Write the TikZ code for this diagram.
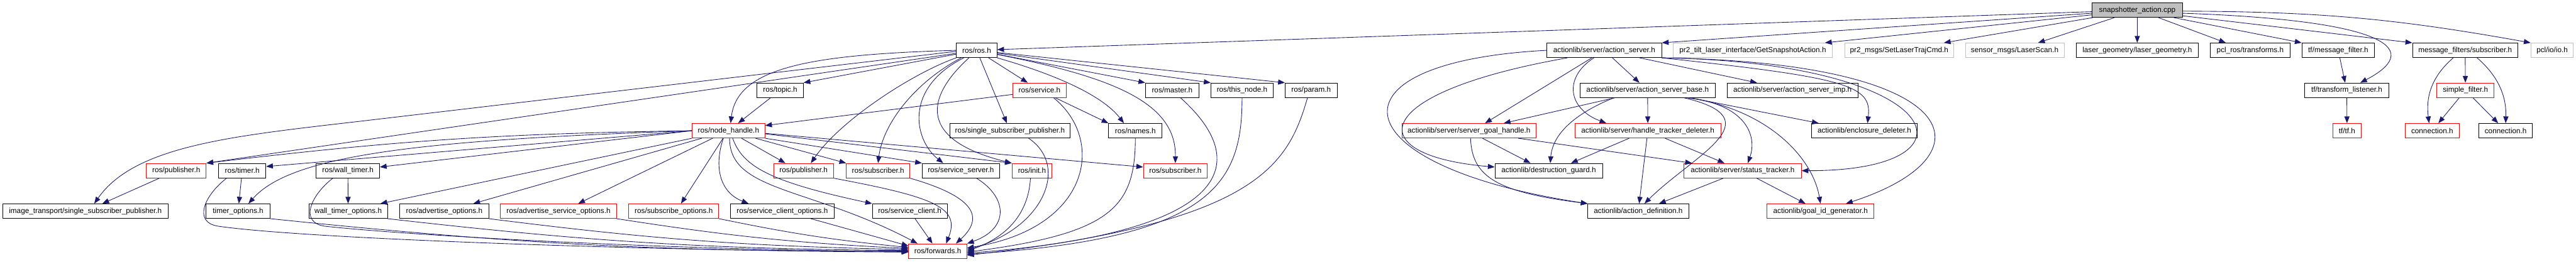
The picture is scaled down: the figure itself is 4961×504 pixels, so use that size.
\documentclass[tikz,border=0pt]{standalone}
\usepackage{fontspec}
\setmainfont{Liberation Sans}
\usepackage{tikz}
\usetikzlibrary{positioning, arrows.meta, calc}
\usepackage{xcolor}
\definecolor{edgeblue}{HTML}{191970}
\definecolor{boxgray}{HTML}{BFBFBF}
\definecolor{boxred}{HTML}{FF0000}
\newlength{\px}
\setlength{\px}{0.02cm}

\begin{document}
\begin{tikzpicture}[x=0.02cm, y=-0.02cm,
    file/.style={draw=black, fill=white, line width=0.6pt, minimum height=28\px, inner sep=0pt, font=\fontsize{8.1}{9.7}\selectfont},
    redfile/.style={file, draw=boxred},
    extfile/.style={file, draw=boxgray},
    rootfile/.style={file, fill=boxgray},
    dep/.style={draw=edgeblue, line width=0.6pt, -{Triangle[length=7.4pt, width=5.6pt]}}]
    \fill[white] (0,0) rectangle (4961,504);
    \useasboundingbox (0,0) rectangle (4961,504);

    \node[rootfile, minimum width=174\px] (snap) at (4116,19.5) {snapshotter\_action.cpp};

    \node[file, minimum width=78\px] (ros) at (1881,97) {ros/ros.h};
    \node[file, minimum width=221\px] (asrv) at (3089.5,97) {actionlib/server/action\_server.h};
    \node[extfile, minimum width=307\px] (getsnap) at (3375.5,97) {pr2\_tilt\_laser\_interface/GetSnapshotAction.h};
    \node[extfile, minimum width=209\px] (setlaser) at (3657.5,97) {pr2\_msgs/SetLaserTrajCmd.h};
    \node[extfile, minimum width=190\px] (laserscan) at (3880,97) {sensor\_msgs/LaserScan.h};
    \node[file, minimum width=236\px] (lgeom) at (4116,97) {laser\_geometry/laser\_geometry.h};
    \node[file, minimum width=153\px] (pclros) at (4333.5,97) {pcl\_ros/transforms.h};
    \node[file, minimum width=140\px] (tfmf) at (4503,97) {tf/message\_filter.h};
    \node[file, minimum width=203\px] (mfsub) at (4747.5,97) {message\_filters/subscriber.h};
    \node[extfile, minimum width=82\px] (pclio) at (4915,97) {pcl/io/io.h};

    \node[file, minimum width=89\px] (topic) at (1502.5,174) {ros/topic.h};
    \node[redfile, minimum width=102\px] (service) at (2002,174) {ros/service.h};
    \node[file, minimum width=103\px] (master) at (2257.5,174) {ros/master.h};
    \node[file, minimum width=120\px] (thisnode) at (2392,174) {ros/this\_node.h};
    \node[file, minimum width=100\px] (param) at (2525,174) {ros/param.h};
    \node[file, minimum width=260\px] (asbase) at (3173,174) {actionlib/server/action\_server\_base.h};
    \node[file, minimum width=252\px] (asimp) at (3452,174) {actionlib/server/action\_server\_imp.h};
    \node[file, minimum width=163\px] (tflist) at (4519.5,174) {tf/transform\_listener.h};
    \node[redfile, minimum width=110\px] (sfilter) at (4748,174) {simple\_filter.h};

    \node[redfile, minimum width=140\px] (nh) at (1403,252) {ros/node\_handle.h};
    \node[file, minimum width=232\px] (ssp) at (1945,252) {ros/single\_subscriber\_publisher.h};
    \node[file, minimum width=103\px] (names) at (2186.5,252) {ros/names.h};
    \node[redfile, minimum width=258\px] (sgh) at (2829,252) {actionlib/server/server\_goal\_handle.h};
    \node[redfile, minimum width=281\px] (htd) at (3173.5,252) {actionlib/server/handle\_tracker\_deleter.h};
    \node[file, minimum width=203\px] (encl) at (3590.5,252) {actionlib/enclosure\_deleter.h};
    \node[redfile, minimum width=54\px] (tftf) at (4520,252) {tf/tf.h};
    \node[redfile, minimum width=104\px] (connA) at (4684,252) {connection.h};
    \node[file, minimum width=103\px] (connB) at (4825.5,252) {connection.h};

    \node[redfile, minimum width=115\px] (pubL) at (339.5,329) {ros/publisher.h};
    \node[file, minimum width=91\px] (timer) at (466.5,329) {ros/timer.h};
    \node[file, minimum width=122\px] (wtimer) at (670,329) {ros/wall\_timer.h};
    \node[redfile, minimum width=115\px] (pub) at (1547.5,329) {ros/publisher.h};
    \node[redfile, minimum width=122\px] (sub) at (1691,329) {ros/subscriber.h};
    \node[file, minimum width=149\px] (ssrv) at (1850.5,329) {ros/service\_server.h};
    \node[redfile, minimum width=77\px] (init) at (1987.5,329) {ros/init.h};
    \node[redfile, minimum width=123\px] (sub2) at (2263.5,329) {ros/subscriber.h};
    \node[file, minimum width=207\px] (dguard) at (2982.5,329) {actionlib/destruction\_guard.h};
    \node[redfile, minimum width=226\px] (stracker) at (3356,329) {actionlib/server/status\_tracker.h};

    \node[file, minimum width=319\px] (itssp) at (164.5,407) {image\_transport/single\_subscriber\_publisher.h};
    \node[file, minimum width=123\px] (topts) at (458.5,407) {timer\_options.h};
    \node[file, minimum width=151\px] (wtopts) at (670.5,407) {wall\_timer\_options.h};
    \node[file, minimum width=171\px] (adopts) at (855.5,407) {ros/advertise\_options.h};
    \node[redfile, minimum width=223\px] (adsopts) at (1075.5,407) {ros/advertise\_service\_options.h};
    \node[redfile, minimum width=173\px] (subopts) at (1297.5,407) {ros/subscribe\_options.h};
    \node[file, minimum width=199\px] (scopts) at (1506.5,407) {ros/service\_client\_options.h};
    \node[file, minimum width=144\px] (sclient) at (1752,407) {ros/service\_client.h};
    \node[file, minimum width=194\px] (adef) at (3155,407) {actionlib/action\_definition.h};
    \node[redfile, minimum width=206\px] (goalid) at (3506,407) {actionlib/goal\_id\_generator.h};

    \node[redfile, minimum width=112\px] (fwd) at (1806,484) {ros/forwards.h};

    \draw[dep] (snap) -- (ros);
    \draw[dep] (snap) -- (asrv.north east);
    \draw[dep] (snap) -- ($(getsnap.north east)+(-15,0)$);
    \draw[dep] (snap) -- ($(setlaser.north east)+(-19,0)$);
    \draw[dep] ($(snap.south)+(-44,0)$) -- ($(laserscan.north)+(45,0)$);
    \draw[dep] (snap) -- (lgeom);
    \draw[dep] ($(snap.south)+(41,0)$) -- ($(pclros.north)+(-47,0)$);
    \draw[dep] ($(snap.south east)+(-17,0)$) -- (tfmf.north west);
    \draw[dep] ($(snap.east)+(0,6)$) .. controls (4620,40) and (4660,100) .. ($(tflist.north)+(26,0)$);
    \draw[dep] ($(snap.east)+(0,11)$) -- (mfsub.north west);
    \draw[dep] ($(snap.east)+(0,2)$) to[bend left=5] (pclio.north west);

    \draw[dep] (ros) -- (topic.north east);
    \draw[dep] (ros.west) .. controls (1560,105) and (1420,130) .. ($(nh.north)+(4,0)$);
    \draw[dep] (ros) -- (pubL.north east);
    \draw[dep] ($(ros.west)+(0,2)$) -- (700,233) .. controls (450,262) and (260,280) .. ($(itssp.north)+(17,0)$);
    \draw[dep] (ros.south west) .. controls (1760,140) and (1620,230) .. ($(pub.north)+(14,0)$);
    \draw[dep] ($(ros.south)+(-30,0)$) .. controls (1760,160) and (1700,240) .. (sub.north);
    \draw[dep] ($(ros.south)+(-25,0)$) .. controls (1740,170) and (1760,270) .. ($(ssrv.north)+(-34,0)$);
    \draw[dep] ($(ros.south)+(-15,0)$) .. controls (1780,190) and (1770,270) .. (init.north west);
    \draw[dep] (ros) -- (ssp);
    \draw[dep] (ros) -- (service);
    \draw[dep] (ros) -- (master.north west);
    \draw[dep] (ros) -- (thisnode.north west);
    \draw[dep] (ros) -- (param.north west);
    \draw[dep] (ros.south east) .. controls (2020,140) and (2120,180) .. ($(names.north)+(-22,0)$);
    \draw[dep] ($(ros.east)+(0,8)$) .. controls (2150,150) and (2265,200) .. (sub2.north);

    \draw[dep] (nh.west) to[bend right=3] (pubL.north east);
    \draw[dep] (nh.west) -- ($(timer.east)+(0,-8)$);
    \draw[dep] (nh.west) .. controls (800,270) and (560,300) .. ($(topts.north)+(20,0)$);
    \draw[dep] (nh.west) -- ($(wtimer.east)+(0,-7)$);
    \draw[dep] (nh.south west) -- ($(wtopts.north east)+(-14,0)$);
    \draw[dep] ($(nh.south west)+(19,0)$) -- ($(adopts.north)+(56,0)$);
    \draw[dep] ($(nh.south west)+(40,0)$) -- ($(adsopts.north)+(38,0)$);
    \draw[dep] ($(nh.south west)+(60,0)$) -- ($(subopts.north)+(14,0)$);
    \draw[dep] ($(nh.south)+(-10,0)$) .. controls (1375,320) and (1385,370) .. ($(scopts.north)+(-65,0)$);
    \draw[dep] ($(nh.south)+(2,0)$) .. controls (1405,370) and (1560,360) .. ($(fwd.north)+(-39,0)$);
    \draw[dep] ($(nh.south)+(8,0)$) .. controls (1430,320) and (1480,350) .. (sclient.north west);
    \draw[dep] ($(nh.south)+(25,0)$) -- ($(pub.north)+(-35,0)$);
    \draw[dep] ($(nh.south)+(52,0)$) -- (sub.north west);
    \draw[dep] (nh.south east) -- (ssrv.north west);
    \draw[dep] ($(nh.east)+(0,6)$) -- (init.north west);
    \draw[dep] ($(nh.east)+(0,5)$) -- ($(sub2.west)+(0,-7)$);

    \draw[dep] (topic) -- (nh);
    \draw[dep] ($(service.west)+(0,8)$) -- ($(nh.east)+(0,-10)$);
    \draw[dep] (service) -- (names.north west);
    \draw[dep] ($(service.south)+(27,0)$) .. controls (2130,270) and (2100,440) .. ($(fwd.east)+(0,-6)$);
    \draw[dep] ($(ssp.south)+(36,0)$) .. controls (2060,320) and (2010,440) .. ($(fwd.east)+(0,-3)$);
    \draw[dep] ($(init.south)+(-3,0)$) .. controls (1980,420) and (1930,460) .. (fwd.east);
    \draw[dep] (names.south) .. controls (2186,400) and (2140,450) .. ($(fwd.east)+(0,2)$);
    \draw[dep] ($(master.south)+(16,0)$) .. controls (2420,320) and (2360,450) .. ($(fwd.east)+(0,4)$);
    \draw[dep] (thisnode.south) .. controls (2392,350) and (2340,460) .. ($(fwd.east)+(0,6)$);
    \draw[dep] ($(param.south)+(-7,0)$) .. controls (2480,320) and (2420,430) .. ($(fwd.east)+(0,8)$);

    \draw[dep] (pub.south east) .. controls (1800,380) and (1850,400) .. ($(fwd.north)+(16,0)$);
    \draw[dep] (sub.south east) .. controls (1880,380) and (1895,420) .. ($(fwd.north)+(35,0)$);
    \draw[dep] ($(ssrv.south)+(30,0)$) .. controls (1940,380) and (1945,440) .. (fwd.north east);
    \draw[dep] (sclient) -- (fwd);
    \draw[dep] ($(scopts.south)+(55,0)$) -- ($(fwd.west)+(0,-10)$);
    \draw[dep] (subopts.south east) to[bend right=3] ($(fwd.west)+(0,-7)$);
    \draw[dep] (adsopts.south east) to[bend right=3] ($(fwd.west)+(0,-5)$);
    \draw[dep] (adopts.south east) to[bend right=3] ($(fwd.west)+(0,-3)$);
    \draw[dep] (wtopts.south east) to[bend right=3] ($(fwd.west)+(0,-1)$);
    \draw[dep] (topts.south east) to[bend right=3] (fwd.west);
    \draw[dep] ($(timer.south)+(-30,0)$) .. controls (395,375) and (370,428) .. (420,436) .. controls (600,462) and (1300,484) .. ($(fwd.west)+(0,2)$);
    \draw[dep] ($(wtimer.south)+(-29,0)$) .. controls (600,375) and (575,428) .. (625,436) .. controls (800,455) and (1300,482) .. ($(fwd.west)+(0,1)$);
    \draw[dep] (timer) -- (topts);
    \draw[dep] (wtimer) -- (wtopts);
    \draw[dep] (pubL) -- (itssp);

    \draw[dep] (asrv.west) .. controls (2540,120) and (2580,320) .. (adef.north west);
    \draw[dep] ($(asrv.south west)+(40,0)$) .. controls (2630,180) and (2620,300) .. ($(dguard.west)+(0,-7)$);
    \draw[dep] ($(asrv.south)+(-24,0)$) -- ($(sgh.north)+(31,0)$);
    \draw[dep] ($(asrv.south)+(-20,0)$) .. controls (3010,150) and (3020,210) .. ($(htd.north)+(-80,0)$);
    \draw[dep] (asrv) -- (asbase);
    \draw[dep] (asrv) -- (asimp);
    \draw[dep] (asrv.south east) .. controls (3560,150) and (3605,165) .. ($(encl.north)+(6,0)$);
    \draw[dep] (asrv.south east) .. controls (3750,120) and (3830,330) .. (stracker.east);
    \draw[dep] (asrv.south east) .. controls (3790,120) and (3840,300) .. ($(goalid.north)+(49,0)$);

    \draw[dep] ($(asbase.south)+(-63,0)$) -- ($(sgh.north)+(67,0)$);
    \draw[dep] ($(asbase.south)+(-65,0)$) .. controls (3030,220) and (2990,260) .. ($(dguard.north)+(3,0)$);
    \draw[dep] (asbase) -- (htd);
    \draw[dep] ($(asbase.south)+(70,0)$) .. controls (3420,230) and (3260,300) .. ($(adef.north)+(12,0)$);
    \draw[dep] ($(asbase.south)+(75,0)$) .. controls (3360,200) and (3385,260) .. ($(stracker.north)+(10,0)$);
    \draw[dep] ($(asbase.south)+(78,0)$) .. controls (3400,210) and (3490,300) .. (goalid.north);
    \draw[dep] ($(asbase.south east)+(-48,0)$) -- ($(encl.north west)+(14,0)$);

    \draw[dep] ($(htd.south)+(-36,0)$) -- ($(dguard.north)+(43,0)$);
    \draw[dep] (htd) -- (adef);
    \draw[dep] ($(htd.south)+(33,0)$) -- ($(stracker.north)+(-35,0)$);

    \draw[dep] ($(sgh.south)+(26,0)$) -- ($(dguard.north)+(-35,0)$);
    \draw[dep] ($(sgh.south)+(3,0)$) .. controls (2835,340) and (2880,370) .. (adef.north west);
    \draw[dep] ($(sgh.south)+(95,0)$) -- ($(stracker.north west)+(16,0)$);

    \draw[dep] ($(stracker.south)+(-37,0)$) -- ($(adef.north)+(40,0)$);
    \draw[dep] ($(stracker.south)+(27,0)$) -- ($(goalid.north)+(-29,0)$);

    \draw[dep] (tfmf) -- (tflist);
    \draw[dep] (tflist) -- (tftf);
    \draw[dep] ($(mfsub.south)+(-23,0)$) .. controls (4680,150) and (4672,190) .. ($(connA.north)+(-6,0)$);
    \draw[dep] (mfsub) -- (sfilter);
    \draw[dep] ($(mfsub.south)+(23,0)$) .. controls (4815,150) and (4827,190) .. (connB.north);
    \draw[dep] (sfilter) -- (connA);
    \draw[dep] (sfilter) -- (connB);
  \end{tikzpicture}
\end{document}
